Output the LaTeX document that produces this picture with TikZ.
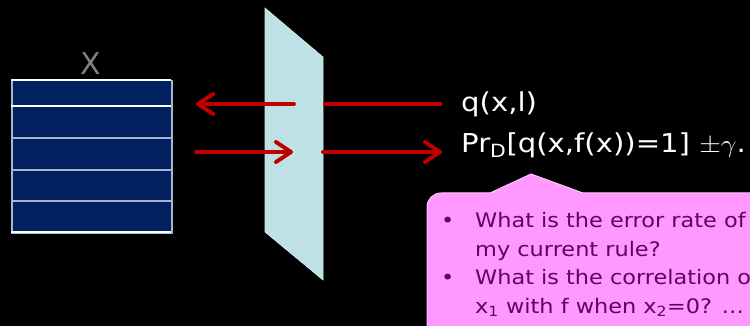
\documentclass[tikz,border=0pt]{standalone}
\usepackage{fontspec}
\setmainfont{DejaVu Sans}
\usetikzlibrary{arrows.meta}
\definecolor{navy}{HTML}{002060}
\definecolor{arrred}{HTML}{C00000}
\definecolor{planecol}{HTML}{BDE1E5}
\definecolor{callpink}{HTML}{FF99FF}
\definecolor{callpurple}{HTML}{660066}
\definecolor{xgray}{HTML}{808080}
\definecolor{rowgray}{HTML}{A9B3C9}
\begin{document}
\begin{tikzpicture}[x=1pt,y=-1pt,
  redarrow/.style={draw=arrred, line width=4pt, line cap=round,
    -{Straight Barb[length=15pt,width=20pt,line cap=round,line join=round]}},
  redline/.style={draw=arrred, line width=4pt},
  rowline/.style={draw=rowgray, line width=1.5pt},
  edgeline/.style={draw=white, line width=1.5pt},
  bigtext/.style={text=white, inner sep=0pt, anchor=base west, xscale=1.12, transform shape, font=\fontsize{26}{26}\selectfont},
  calltext/.style={text=callpurple, inner sep=0pt, anchor=base west, xscale=1.12, transform shape, font=\fontsize{20}{20}\selectfont}]
\fill[black] (0,0) rectangle (750,326);
\useasboundingbox (0,0) rectangle (750,326);
\clip (0,0) rectangle (750,326);
% table X
\node[fill=navy, draw=rowgray, line width=1.5pt, minimum width=160pt, minimum height=152pt,
  anchor=north west, inner sep=0pt] (table) at (11,80) {};
\draw[rowline] (11,138) -- (171,138);
\draw[rowline] (11,170) -- (171,170);
\draw[rowline] (11,201) -- (171,201);
\draw[edgeline] (11,106) -- (171,106);
\draw[edgeline] (11,80) -- (171,80);
\draw[edgeline] (11,232) -- (171,232);
\node[text=xgray, font=\fontsize{30}{30}\selectfont, inner sep=0pt] (xlabel) at (91,64) {X};
% plane
\fill[planecol, draw=planecol!70!white, line width=0.6pt] (265,8) -- (323,57) -- (323,280) -- (265,232) -- cycle;
% arrows
\coordinate (q1) at (442,104);
\coordinate (pr1) at (323,104);
\coordinate (pm1) at (294,104);
\coordinate (tip1) at (196,104);
\coordinate (s2) at (196,152);
\coordinate (pm2) at (293,152);
\coordinate (pr2) at (323,152);
\coordinate (tip2) at (442,152);
\draw[redline] (q1) -- (pr1);
\draw[redarrow] (pm1) -- (tip1);
\draw[redarrow] (s2) -- (pm2);
\draw[redarrow] (pr2) -- (tip2);
% texts
\node[bigtext] (qtext) at (461,112) {q(x,l)};
\node[bigtext] (prtext) at (461,153) {Pr\textsubscript{D}[q(x,f(x))=1] $\pm\gamma$.};
% callout
\path[fill=callpink, draw=callpink!60!white, line width=1pt]
  (427,340) -- (427,207) arc[start angle=180, end angle=270, radius=14]
  -- (490,193) -- (531,174) -- (583,193) -- (770,193) -- (770,340) -- cycle;
\node[calltext] (b1) at (441,227) {\textbullet};
\node[calltext] (l1) at (475,227) {What is the error rate of};
\node[calltext] (l2) at (475,256) {my current rule?};
\node[calltext] (b2) at (441,284) {\textbullet};
\node[calltext] (l3) at (475,284) {What is the correlation of};
\node[calltext] (l4) at (475,313) {x\textsubscript{1} with f when x\textsubscript{2}=0? …};
\end{tikzpicture}
\end{document}
